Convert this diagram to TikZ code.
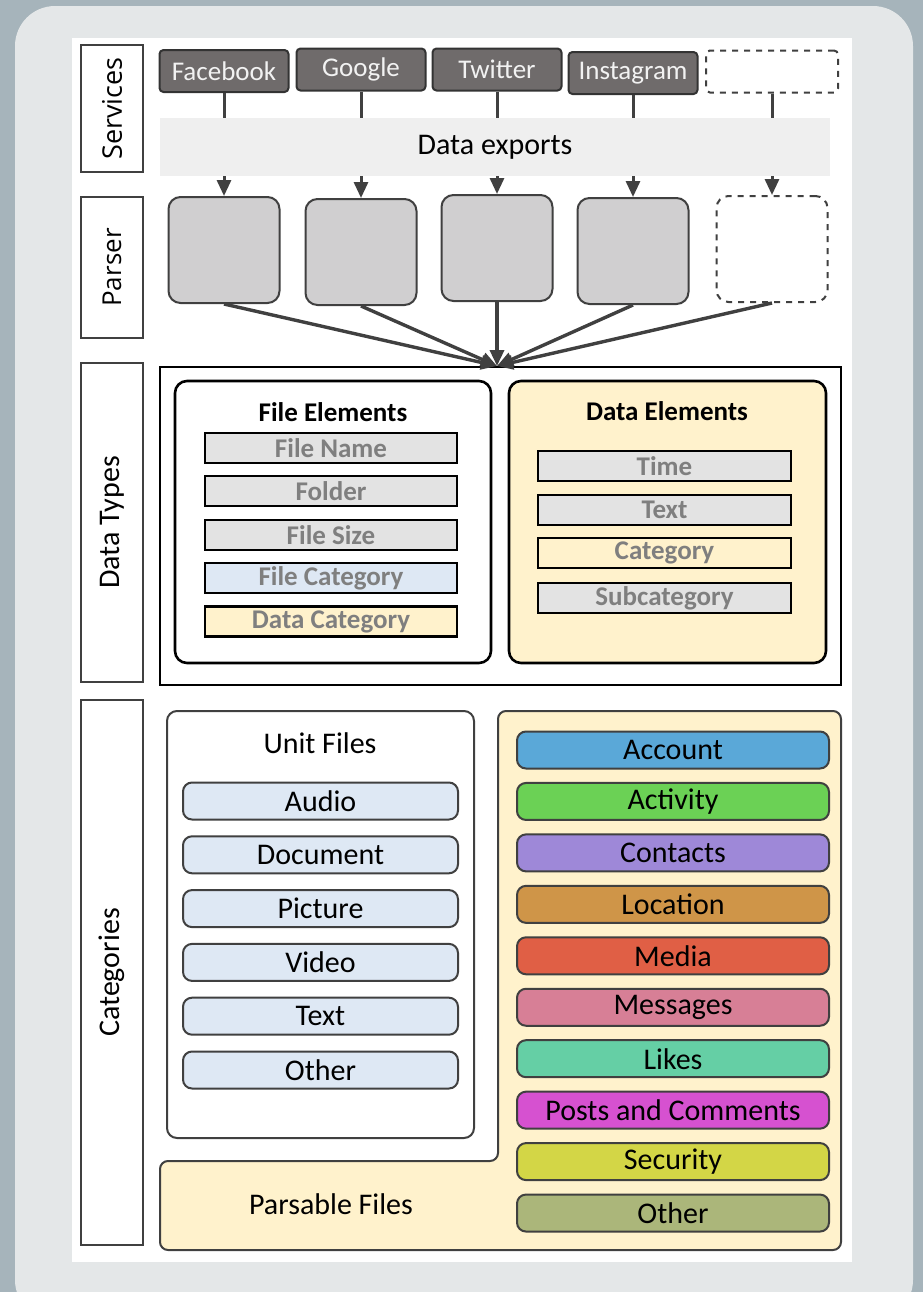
\documentclass[tikz,border=0pt]{standalone}
\usepackage{fontspec}
\setmainfont{Carlito}
\newfontfamily\sidefont{Open Sans}
\usetikzlibrary{arrows.meta}
\usetikzlibrary{calc}

\definecolor{bgblue}{HTML}{A6B4BB}
\definecolor{cardgray}{HTML}{E4E7E8}
\definecolor{edgegray}{HTML}{404040}
\definecolor{svcfill}{HTML}{6F6B6B}
\definecolor{bandgray}{HTML}{EFEFEF}
\definecolor{parsegray}{HTML}{D0CFD0}
\definecolor{itemgray}{HTML}{E3E3E3}
\definecolor{itemblue}{HTML}{DEE8F4}
\definecolor{itemyellow}{HTML}{FFF2CC}
\definecolor{itemtext}{HTML}{7F7F7F}
\definecolor{cAccount}{HTML}{5AA8D8}
\definecolor{cActivity}{HTML}{6BD155}
\definecolor{cContacts}{HTML}{9E88D8}
\definecolor{cLocation}{HTML}{CF9548}
\definecolor{cMedia}{HTML}{E05F45}
\definecolor{cMessages}{HTML}{D77F96}
\definecolor{cLikes}{HTML}{65CFA5}
\definecolor{cPosts}{HTML}{D651D0}
\definecolor{cSecurity}{HTML}{D3D646}
\definecolor{cOther}{HTML}{ABB67A}

\tikzset{
	sidebox/.style={draw=edgegray, line width=1pt, fill=white, inner sep=0pt, rotate=90},
	svcbox/.style={draw=black!80, line width=1pt, fill=svcfill, text=white!95!black, rounded corners=2pt,
		minimum width=64.5pt, minimum height=21pt, inner sep=0pt, font=\fontsize{13.5}{15}\selectfont},
	parsebox/.style={draw=edgegray, line width=1pt, fill=parsegray, rounded corners=6pt,
		minimum width=55.5pt, minimum height=53pt, inner sep=0pt},
	flow/.style={draw=edgegray, line width=1.5pt, -{Triangle[length=8pt,width=7pt]}},
	elem/.style={draw=black, line width=1.1pt, inner sep=0pt, minimum height=15pt,
		text=itemtext, font=\fontsize{13.5}{15}\selectfont\bfseries},
	catitem/.style={draw=edgegray, line width=1pt, rounded corners=4.5pt, inner sep=0pt,
		minimum height=18.5pt, font=\fontsize{15}{18}\selectfont},
	bigfont/.style={font=\fontsize{15}{18}\selectfont}
}

\begin{document}
\begin{tikzpicture}[x=0.5pt,y=-0.5pt]
	\path[use as bounding box] (0,0) rectangle (923,1292);

	% draw background card
	\fill[bgblue] (0,0) rectangle (923,1292);
	\fill[cardgray, rounded corners=20pt] (15,6) rectangle (913,1320);
	\fill[white] (72,38) rectangle (852,1262);

	% draw side labels
	\node[sidebox, minimum width=63.5pt, minimum height=31pt, font=\sidefont\fontsize{13.5}{15}\selectfont] (lsvc) at (112,108.5) {Services};
	\node[sidebox, minimum width=70.5pt, minimum height=31pt, font=\sidefont\fontsize{13}{15}\selectfont] (lparse) at (112,267.5) {Parser};
	\node[sidebox, minimum width=159.5pt, minimum height=31pt, bigfont] (ltypes) at (112,522.5) {Data Types};
	\node[sidebox, minimum width=272.5pt, minimum height=31pt, bigfont] (lcats) at (112,972.5) {Categories};

	% draw services
	\node[svcbox] (fb) at (224,71) {Facebook};
	\node[svcbox] (goog) at (361,69.5) {Google};
	\node[svcbox] (tw) at (497,69.5) {Twitter};
	\node[svcbox] (insta) at (633,73) {Instagram};
	\node[svcbox, fill=white, dashed, draw=edgegray, minimum width=66pt] (svcx) at (772,71.5) {};

	% draw parsers
	\node[parsebox] (pfb) at (224,250) {};
	\node[parsebox] (pgoog) at (361,252) {};
	\node[parsebox] (ptw) at (497,248) {};
	\node[parsebox] (pinsta) at (633,251) {};
	\node[parsebox, fill=white, dashed] (px) at (772,249) {};

	% service to parser arrows
	\foreach \s/\p in {fb/pfb,goog/pgoog,tw/ptw,insta/pinsta,svcx/px} {
		\draw[flow] (\s) -- (\p);
	}

	% export band on top of the arrows
	\node[fill=bandgray, minimum width=335pt, minimum height=29pt, inner sep=0pt, bigfont] (exports) at (495,147) {Data exports};

	% data types
	\node[draw=black, line width=1.3pt, minimum width=340.5pt, minimum height=159pt, inner sep=0pt] (dtypes) at (500.5,526) {};
	\coordinate (hub) at (497,366);
	\foreach \p in {pfb,pgoog,ptw,pinsta,px} {
		\draw[flow, line width=1.7pt] (\p.south) -- (hub);
	}

	\node[draw=black, line width=1.3pt, fill=white, rounded corners=6pt, minimum width=158pt, minimum height=141pt] (felem) at (333,522) {};
	\node[draw=black, line width=1.3pt, fill=itemyellow, rounded corners=6pt, minimum width=158.5pt, minimum height=141pt] (delem) at (667.5,522) {};
	\node[font=\fontsize{13.5}{15}\selectfont\bfseries] (fetitle) at (333,412) {File Elements};
	\node[font=\fontsize{13.5}{15}\selectfont\bfseries] (detitle) at (667,411) {Data Elements};

	\foreach \txt/\y/\col [count=\i] in {File Name/448/itemgray, Folder/491/itemgray, File Size/535/itemgray,
		File Category/578/itemblue, Data Category/621.5/itemyellow} {
		\node[elem, fill=\col, minimum width=126pt] (fe\i) at (331,\y) {\txt};
	}
	\foreach \txt/\y/\col [count=\i] in {Time/466/itemgray, Text/510/itemgray, Category/553/itemyellow,
		Subcategory/598/itemgray} {
		\node[elem, fill=\col, minimum width=126.5pt] (de\i) at (664.5,\y) {\txt};
	}

	% categories
	\draw[draw=edgegray, line width=1pt, fill=itemyellow, rounded corners=4pt]
		(498,711) -- (841,711) -- (841,1250) -- (160,1250) -- (160,1161) -- (498,1161) -- cycle;
	\node[bigfont] (parsable) at (331,1204) {Parsable Files};

	\node[draw=edgegray, line width=1pt, fill=white, rounded corners=5pt, minimum width=153.5pt, minimum height=213.5pt] (unitbox) at (320.5,924.5) {};
	\node[bigfont] (unittitle) at (320,743) {Unit Files};

	\foreach \txt [count=\i] in {Audio, Document, Picture, Video, Text, Other} {
		\node[catitem, fill=itemblue, minimum width=137.5pt] (uf\i) at (320.5,{801+53.8*(\i-1)}) {\txt};
	}
	\foreach \txt/\col [count=\i] in {Account/cAccount, Activity/cActivity, Contacts/cContacts,
		Location/cLocation, Media/cMedia, Messages/cMessages, Likes/cLikes,
		Posts and Comments/cPosts, Security/cSecurity, Other/cOther} {
		\node[catitem, fill=\col, minimum width=156pt] (pf\i) at (673,{750+51.45*(\i-1)}) {\txt};
	}
\end{tikzpicture}
\end{document}
